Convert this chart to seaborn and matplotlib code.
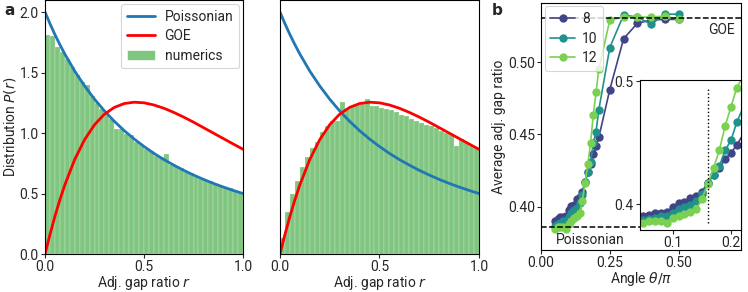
import numpy as np
import pandas as pd
import matplotlib.pyplot as plt
import seaborn as sns
from matplotlib.patches import Patch

sns.set_theme(style="ticks", context="paper")
plt.rcParams['font.family'] = ['Roboto', 'DejaVu Sans']
_fontsize = 10

# ---- panel a: theory curves
r_grid = [0.0, 0.025, 0.05, 0.075, 0.1, 0.15, 0.2, 0.25, 0.3, 0.35, 0.4, 0.45,
          0.5, 0.55, 0.6, 0.65, 0.7, 0.75, 0.8, 0.85, 0.9, 0.95, 1.0]
poisson_curve = [2.000, 1.904, 1.814, 1.731, 1.653, 1.512, 1.389, 1.280, 1.183,
                 1.097, 1.020, 0.951, 0.889, 0.832, 0.781, 0.735, 0.692, 0.653,
                 0.617, 0.584, 0.554, 0.526, 0.500]
goe_curve = [0.000, 0.162, 0.312, 0.448, 0.572, 0.782, 0.946, 1.069, 1.156,
             1.212, 1.244, 1.255, 1.250, 1.232, 1.205, 1.171, 1.132, 1.090,
             1.045, 1.000, 0.955, 0.910, 0.866]

# histogram heights, 40 bins on [0, 1]
n_bins = 40
hist_poisson = [1.81, 1.80, 1.71, 1.67, 1.61, 1.55, 1.48, 1.42, 1.40, 1.31,
                1.25, 1.20, 1.15, 1.12, 1.03, 1.03, 0.99, 0.985, 0.93, 0.90,
                0.87, 0.85, 0.81, 0.80, 0.825, 0.74, 0.73, 0.71, 0.68, 0.67,
                0.64, 0.62, 0.61, 0.60, 0.58, 0.56, 0.55, 0.545, 0.52, 0.51]
hist_goe = [0.13, 0.35, 0.50, 0.60, 0.72, 0.80, 0.88, 0.93, 1.01, 1.06,
            1.10, 1.10, 1.26, 1.21, 1.22, 1.23, 1.24, 1.28, 1.22, 1.22,
            1.21, 1.20, 1.19, 1.17, 1.15, 1.14, 1.12, 1.10, 1.08, 1.07,
            1.06, 1.04, 1.02, 1.00, 0.985, 0.89, 0.95, 0.92, 0.89, 0.875]

# ---- panel b: average adjacent gap ratio vs angle
theta = [0.05, 0.06, 0.07, 0.08, 0.09, 0.10, 0.11, 0.12, 0.13, 0.14, 0.15,
         0.16, 0.17, 0.18, 0.19, 0.20, 0.21, 0.25, 0.30, 0.35, 0.40, 0.45, 0.50]
ratio_L8 = [0.3905, 0.3916, 0.3932, 0.3932, 0.3937, 0.3978, 0.4006, 0.4014,
            0.4054, 0.4067, 0.4100, 0.4175, 0.4238, 0.4298, 0.4366, 0.4420,
            0.4480, 0.481, 0.516, 0.5267, 0.529, 0.5294, 0.5294]
ratio_L10 = [0.3870, 0.3880, 0.3890, 0.3900, 0.3900, 0.3930, 0.3960, 0.3980,
             0.3995, 0.4030, 0.4080, 0.4170, 0.4240, 0.4310, 0.4440, 0.4520,
             0.4670, 0.510, 0.5324, 0.531, 0.526, 0.533, 0.533]
ratio_L12 = [0.3848, 0.3864, 0.3864, 0.3864, 0.3851, 0.3884, 0.3905, 0.3924,
             0.3937, 0.3959, 0.4040, 0.4163, 0.4293, 0.4441, 0.4637, 0.4794,
             0.4949, 0.529, 0.531, 0.531, 0.531, 0.5317, 0.5294]
sizes = ["8", "10", "12"]
goe_value = 0.5307
poisson_value = 0.3863
theta_crit = 0.16

palette = {"8": "#414487", "10": "#21918c", "12": "#7ad151"}
green = "tab:green"

df = pd.concat([
    pd.DataFrame({"theta": theta, "ratio": vals, "L": L})
    for L, vals in zip(sizes, [ratio_L8, ratio_L10, ratio_L12])
], ignore_index=True)

centers = (np.arange(n_bins) + 0.5) / n_bins

fig = plt.figure(figsize=(7.48, 2.92), dpi=100)
ax1 = fig.add_axes([0.0602, 0.1301, 0.2647, 0.8699])
ax2 = fig.add_axes([0.3743, 0.1301, 0.2660, 0.8699])
ax3 = fig.add_axes([0.7233, 0.1438, 0.2674, 0.8459])
axin = fig.add_axes([0.8556, 0.2123, 0.1350, 0.5137])

for ax, hvals in [(ax1, hist_poisson), (ax2, hist_goe)]:
    hdf = pd.DataFrame({"r": centers, "w": hvals})
    sns.histplot(data=hdf, x="r", weights="w", bins=n_bins, binrange=(0, 1),
                 color=green, alpha=0.6, edgecolor="white", linewidth=0.15, ax=ax)
    sns.lineplot(x=r_grid, y=poisson_curve, color="#1f77b4", linewidth=2.0, ax=ax)
    sns.lineplot(x=r_grid, y=goe_curve, color="red", linewidth=2.0, ax=ax)
    ax.set_xlim(0, 1)
    ax.set_ylim(0, 2.1)
    ax.set_xticks([0, 0.5, 1.0])
    ax.set_xlabel("Adj. gap ratio $r$", fontsize=_fontsize, labelpad=-0.5)
    ax.tick_params(labelsize=_fontsize, length=3, width=0.8, pad=1.5)
    for s in ax.spines.values():
        s.set_color("black")
        s.set_linewidth(0.8)

ax1.set_yticks([0, 0.5, 1.0, 1.5, 2.0])
ax1.set_ylabel("Distribution $P(r)$", fontsize=_fontsize, labelpad=1)
ax2.set_yticks([])
ax2.set_ylabel("")

handles = [ax1.lines[0], ax1.lines[1], Patch(facecolor=green, alpha=0.6)]
ax1.legend(handles, ["Poissonian", "GOE", "numerics"], loc="upper right",
           fontsize=_fontsize, handlelength=2.0, labelspacing=0.4, handletextpad=0.7,
           borderaxespad=0.3)

# panel b
for ax in [ax3, axin]:
    sns.lineplot(data=df, x="theta", y="ratio", hue="L", hue_order=sizes,
                 palette=palette, marker="o", markersize=6, markeredgewidth=0,
                 linewidth=1.2, legend=False, ax=ax)
    ax.set_xlabel("")
    ax.set_ylabel("")
    ax.tick_params(labelsize=_fontsize, length=3, width=0.8, pad=1.5)
    for s in ax.spines.values():
        s.set_color("black")
        s.set_linewidth(0.8)

ax3.axhline(goe_value, color="black", linestyle="--", linewidth=1.1)
ax3.axhline(poisson_value, color="black", linestyle="--", linewidth=1.1)
ax3.set_xlim(0, 0.727)
ax3.set_ylim(0.3703, 0.5407)
ax3.set_xticks([0, 0.25, 0.5])
ax3.set_yticks([0.40, 0.45, 0.50])
ax3.set_xlabel(r"Angle $\theta/\pi$", fontsize=_fontsize, labelpad=-0.5)
ax3.set_ylabel("Average adj. gap ratio", fontsize=_fontsize, labelpad=1)
ax3.text(0.705, goe_value - 0.004, "GOE", ha="right", va="top", fontsize=_fontsize)
ax3.text(0.18, poisson_value - 0.004, "Poissonian", ha="center", va="top",
         fontsize=_fontsize)
ax3.legend(ax3.lines[:3], sizes, loc="upper left", fontsize=_fontsize,
           labelspacing=0.4, borderaxespad=0.25, handlelength=1.8,
           handletextpad=0.5)

axin.vlines(theta_crit, 0.3845, 0.494, colors="black", linestyles=":", linewidth=1.0)
axin.set_xlim(0.044, 0.217)
axin.set_ylim(0.379, 0.501)
axin.set_xticks([0.1, 0.2])
axin.set_yticks([0.4, 0.5])
axin.set_xticklabels(["0.1", "0.2"])
axin.set_yticklabels(["0.4", "0.5"])

fig.text(0.006, 0.99, "a", fontsize=11, fontweight="bold", va="top",
         family="DejaVu Sans")
fig.text(0.657, 0.99, "b", fontsize=11, fontweight="bold", va="top",
         family="DejaVu Sans")

plt.savefig("out.png", dpi=100)
